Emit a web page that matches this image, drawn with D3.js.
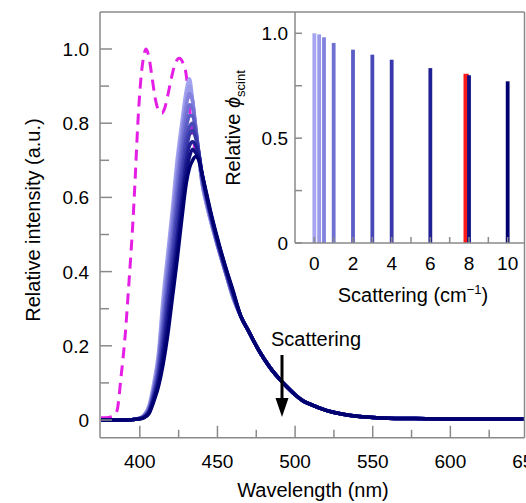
<!DOCTYPE html>
<html><head><meta charset="utf-8">
<script src="https://cdn.jsdelivr.net/npm/d3@7"></script>
<style>
html,body{margin:0;padding:0;background:#fff;}
svg{display:block;font-family:"Liberation Sans",Arial,Helvetica,sans-serif;}
</style></head>
<body>
<svg id="chart" width="526" height="503"></svg>
<script>
// ---------- DATA ----------
const scatteringLevels = [0, 0.25, 0.5, 1, 2, 3, 4, 6, 8, 10];
const levelColors = ["#a4a4f0", "#9a9aea", "#8282de", "#7070d2", "#5c5cc6", "#4848b8", "#3838aa", "#202094", "#101082", "#000070"];

// emission spectra: wavelengths up to 460 nm differ per level, tail shared
const headWavelengths = [375,390,395,400,403,406,409,412,415,418,421,424,427,430,432,434,436,438,440,443,446,450,455,460];
const emissionHeads = [
  [0,0,0.001,0.005,0.015,0.040,0.100,0.180,0.330,0.450,0.570,0.700,0.800,0.890,0.920,0.860,0.780,0.710,0.640,0.580,0.530,0.470,0.400,0.330],
  [0,0,0.001,0.005,0.014,0.037,0.090,0.170,0.310,0.430,0.550,0.680,0.780,0.870,0.900,0.860,0.780,0.710,0.640,0.580,0.530,0.470,0.400,0.330],
  [0,0,0.001,0.005,0.013,0.034,0.085,0.160,0.290,0.410,0.530,0.650,0.760,0.850,0.880,0.860,0.790,0.710,0.645,0.585,0.535,0.470,0.400,0.330],
  [0,0,0.001,0.004,0.012,0.031,0.080,0.150,0.270,0.390,0.500,0.620,0.730,0.820,0.850,0.840,0.790,0.720,0.650,0.590,0.540,0.475,0.400,0.335],
  [0,0,0.001,0.004,0.011,0.028,0.075,0.140,0.250,0.360,0.470,0.590,0.700,0.790,0.820,0.820,0.780,0.720,0.655,0.595,0.540,0.475,0.405,0.335],
  [0,0,0.001,0.004,0.010,0.026,0.070,0.130,0.230,0.340,0.450,0.560,0.670,0.760,0.790,0.800,0.770,0.720,0.660,0.600,0.545,0.480,0.405,0.340],
  [0,0,0.001,0.004,0.009,0.024,0.065,0.120,0.210,0.320,0.420,0.530,0.640,0.730,0.770,0.780,0.760,0.720,0.665,0.600,0.545,0.480,0.410,0.340],
  [0,0,0.001,0.003,0.008,0.022,0.060,0.110,0.190,0.290,0.390,0.490,0.600,0.700,0.740,0.750,0.740,0.715,0.665,0.605,0.550,0.485,0.410,0.345],
  [0,0,0.001,0.003,0.008,0.020,0.055,0.100,0.170,0.260,0.360,0.460,0.570,0.670,0.710,0.730,0.720,0.705,0.665,0.605,0.550,0.485,0.415,0.345],
  [0,0,0.001,0.003,0.007,0.018,0.050,0.090,0.150,0.230,0.330,0.430,0.540,0.640,0.680,0.700,0.710,0.700,0.665,0.610,0.555,0.490,0.415,0.350]
];
const tailWavelengths = [465,470,475,480,485,490,495,500,505,510,520,530,540,550,560,575,600,625,650];
const emissionTail = [0.280,0.240,0.200,0.165,0.135,0.110,0.088,0.068,0.052,0.042,0.026,0.016,0.010,0.007,0.005,0.004,0.003,0.003,0.003];

// excitation spectrum (magenta dashed)
const excitationWavelengths = [375,380,383,385.3,388,390.7,392.5,394.3,395.5,397,398.6,400.8,402.5,404,406,408,410,412,414.3,416,418,420,422,425.4,428,429.7,431,433,436];
const excitationValues = [0.006,0.007,0.011,0.025,0.12,0.235,0.34,0.45,0.53,0.65,0.79,0.925,0.98,1.0,0.975,0.92,0.865,0.835,0.827,0.84,0.875,0.915,0.95,0.975,0.96,0.935,0.89,0.80,0.72];

// inset: relative scintillation yield
const yieldValues = [1.0, 0.995, 0.981, 0.954, 0.922, 0.898, 0.874, 0.834, 0.800, 0.771];
const redBarLevel = 7.85;
const redBarValue = 0.807;

const mainXTicks = [400,450,500,550,600,650];
const mainXMinor = [425,475,525,575,625];
const mainYTicks = [0,0.2,0.4,0.6,0.8,1.0];
const mainYMinor = [0.1,0.3,0.5,0.7,0.9];
const mainYLabels = ["0","0.2","0.4","0.6","0.8","1.0"];
const insetXTicks = [0,1,2,3,4,5,6,7,8,9,10];
const insetXLabels = [0,2,4,6,8,10];
const insetYTicks = [0,0.25,0.5,0.75,1.0];
const insetYLabels = [[0,"0"],[0.5,"0.5"],[1.0,"1.0"]];

// ---------- DRAW ----------
const svg = d3.select("#chart");
const frameColor = "#8a8a8a";

const x = d3.scaleLinear().domain([375, 650]).range([101, 528]);
const y = d3.scaleLinear().domain([0, 1]).range([420, 49]);
const plotTop = y(1.1), plotBottom = y(-0.048), plotLeft = 100, plotRight = 524.5;

svg.append("clipPath").attr("id","clipMain")
  .append("rect").attr("x",plotLeft).attr("y",plotTop).attr("width",plotRight-plotLeft).attr("height",plotBottom-plotTop);

const g = svg.append("g").attr("clip-path","url(#clipMain)");

const line = d3.line().x(d => x(d[0])).y(d => y(d[1])).curve(d3.curveMonotoneX);

// excitation (behind)
g.append("path")
  .datum(excitationWavelengths.map((w,i)=>[w, excitationValues[i]]))
  .attr("d", line).attr("fill","none")
  .attr("stroke","#e41ee4").attr("stroke-width",3)
  .attr("stroke-dasharray","11,7");

// emission spectra
emissionHeads.forEach((head, k) => {
  const pts = headWavelengths.map((w,i)=>[w, head[i]])
    .concat(tailWavelengths.map((w,i)=>[w, emissionTail[i]]));
  g.append("path").datum(pts).attr("d", line).attr("fill","none")
    .attr("stroke", levelColors[k]).attr("stroke-width", 3.5)
    .attr("stroke-linejoin","round");
});

// main frame
const fr = svg.append("g").attr("stroke",frameColor).attr("stroke-width",1.5).attr("fill","none");
fr.append("line").attr("x1",plotLeft).attr("x2",plotLeft).attr("y1",plotTop).attr("y2",plotBottom);
fr.append("line").attr("x1",plotLeft).attr("x2",plotRight).attr("y1",plotBottom).attr("y2",plotBottom);
fr.append("line").attr("x1",plotLeft).attr("x2",plotRight).attr("y1",plotTop).attr("y2",plotTop);
fr.append("line").attr("x1",plotRight).attr("x2",plotRight).attr("y1",plotTop).attr("y2",plotBottom);

// main ticks
mainXTicks.forEach(t => fr.append("line").attr("x1",x(t)).attr("x2",x(t)).attr("y1",plotBottom).attr("y2",plotBottom-12));
mainXMinor.forEach(t => fr.append("line").attr("x1",x(t)).attr("x2",x(t)).attr("y1",plotBottom).attr("y2",plotBottom-8));
mainYTicks.forEach(t => fr.append("line").attr("x1",plotLeft).attr("x2",plotLeft+12).attr("y1",y(t)).attr("y2",y(t)));
mainYMinor.forEach(t => fr.append("line").attr("x1",plotLeft).attr("x2",plotLeft+9).attr("y1",y(t)).attr("y2",y(t)));

const fs = 19;
svg.append("g").selectAll("text").data(mainXTicks).join("text")
  .attr("x", d=>x(d)).attr("y", 468).attr("text-anchor","middle")
  .attr("font-size",fs).text(d=>d);
svg.append("g").selectAll("text").data(mainYTicks).join("text")
  .attr("x", 89).attr("y", d=>y(d)+7).attr("text-anchor","end")
  .attr("font-size",fs).text((d,i)=>mainYLabels[i]);

svg.append("text").attr("x",313).attr("y",497).attr("text-anchor","middle")
  .attr("font-size",20).text("Wavelength (nm)");
svg.append("text").attr("transform","translate(40,220) rotate(-90)")
  .attr("text-anchor","middle").attr("font-size",20).text("Relative intensity (a.u.)");

// annotation
svg.append("text").attr("x",316).attr("y",346).attr("text-anchor","middle")
  .attr("font-size",20).text("Scattering");
svg.append("line").attr("x1",282).attr("x2",282).attr("y1",355).attr("y2",400)
  .attr("stroke","#000").attr("stroke-width",3);
svg.append("path").attr("d","M275.5,398 L288.5,398 L282,417 Z").attr("fill","#000");

// ---------- INSET ----------
const ix = d3.scaleLinear().domain([-1, 11]).range([295, 527]);
const iy = d3.scaleLinear().domain([0, 1]).range([243, 33.3]);
const ig = svg.append("g");

// red bar (behind)
ig.append("rect").attr("x", ix(redBarLevel)-2.6).attr("width",5.2)
  .attr("y", iy(redBarValue)).attr("height", iy(0)-iy(redBarValue)).attr("fill","#ff1a1a");
scatteringLevels.forEach((s,i)=>{
  ig.append("rect").attr("x", ix(s)-1.9).attr("width",3.8)
    .attr("y", iy(yieldValues[i])).attr("height", iy(0)-iy(yieldValues[i]))
    .attr("fill", levelColors[i]);
});

const ifr = svg.append("g").attr("stroke",frameColor).attr("stroke-width",1.5).attr("fill","none");
ifr.append("line").attr("x1",295).attr("x2",295).attr("y1",plotTop).attr("y2",243);
ifr.append("line").attr("x1",295).attr("x2",plotRight).attr("y1",243).attr("y2",243);
insetXTicks.forEach(t => ifr.append("line").attr("x1",ix(t)).attr("x2",ix(t)).attr("y1",243).attr("y2",237));
insetYTicks.forEach(t => ifr.append("line").attr("x1",295).attr("x2",302).attr("y1",iy(t)).attr("y2",iy(t)));

svg.append("g").selectAll("text").data(insetXLabels).join("text")
  .attr("x", d=>ix(d)).attr("y", 270).attr("text-anchor","middle")
  .attr("font-size",fs).text(d=>d);
svg.append("g").selectAll("text").data(insetYLabels).join("text")
  .attr("x", 288).attr("y", d=>iy(d[0])+7).attr("text-anchor","end")
  .attr("font-size",fs).text(d=>d[1]);

const xl = svg.append("text").attr("x",413).attr("y",302).attr("text-anchor","middle").attr("font-size",20);
xl.append("tspan").text("Scattering (cm");
xl.append("tspan").attr("dy",-8).attr("font-size",13).text("\u22121");
xl.append("tspan").attr("dy",8).text(")");

const yl = svg.append("text").attr("transform","translate(240,128) rotate(-90)")
  .attr("text-anchor","middle").attr("font-size",20);
yl.append("tspan").text("Relative ");
yl.append("tspan").attr("font-style","italic").text("\u03d5");
yl.append("tspan").attr("dy",5).attr("font-size",13).text("scint");
</script>
</body></html>
